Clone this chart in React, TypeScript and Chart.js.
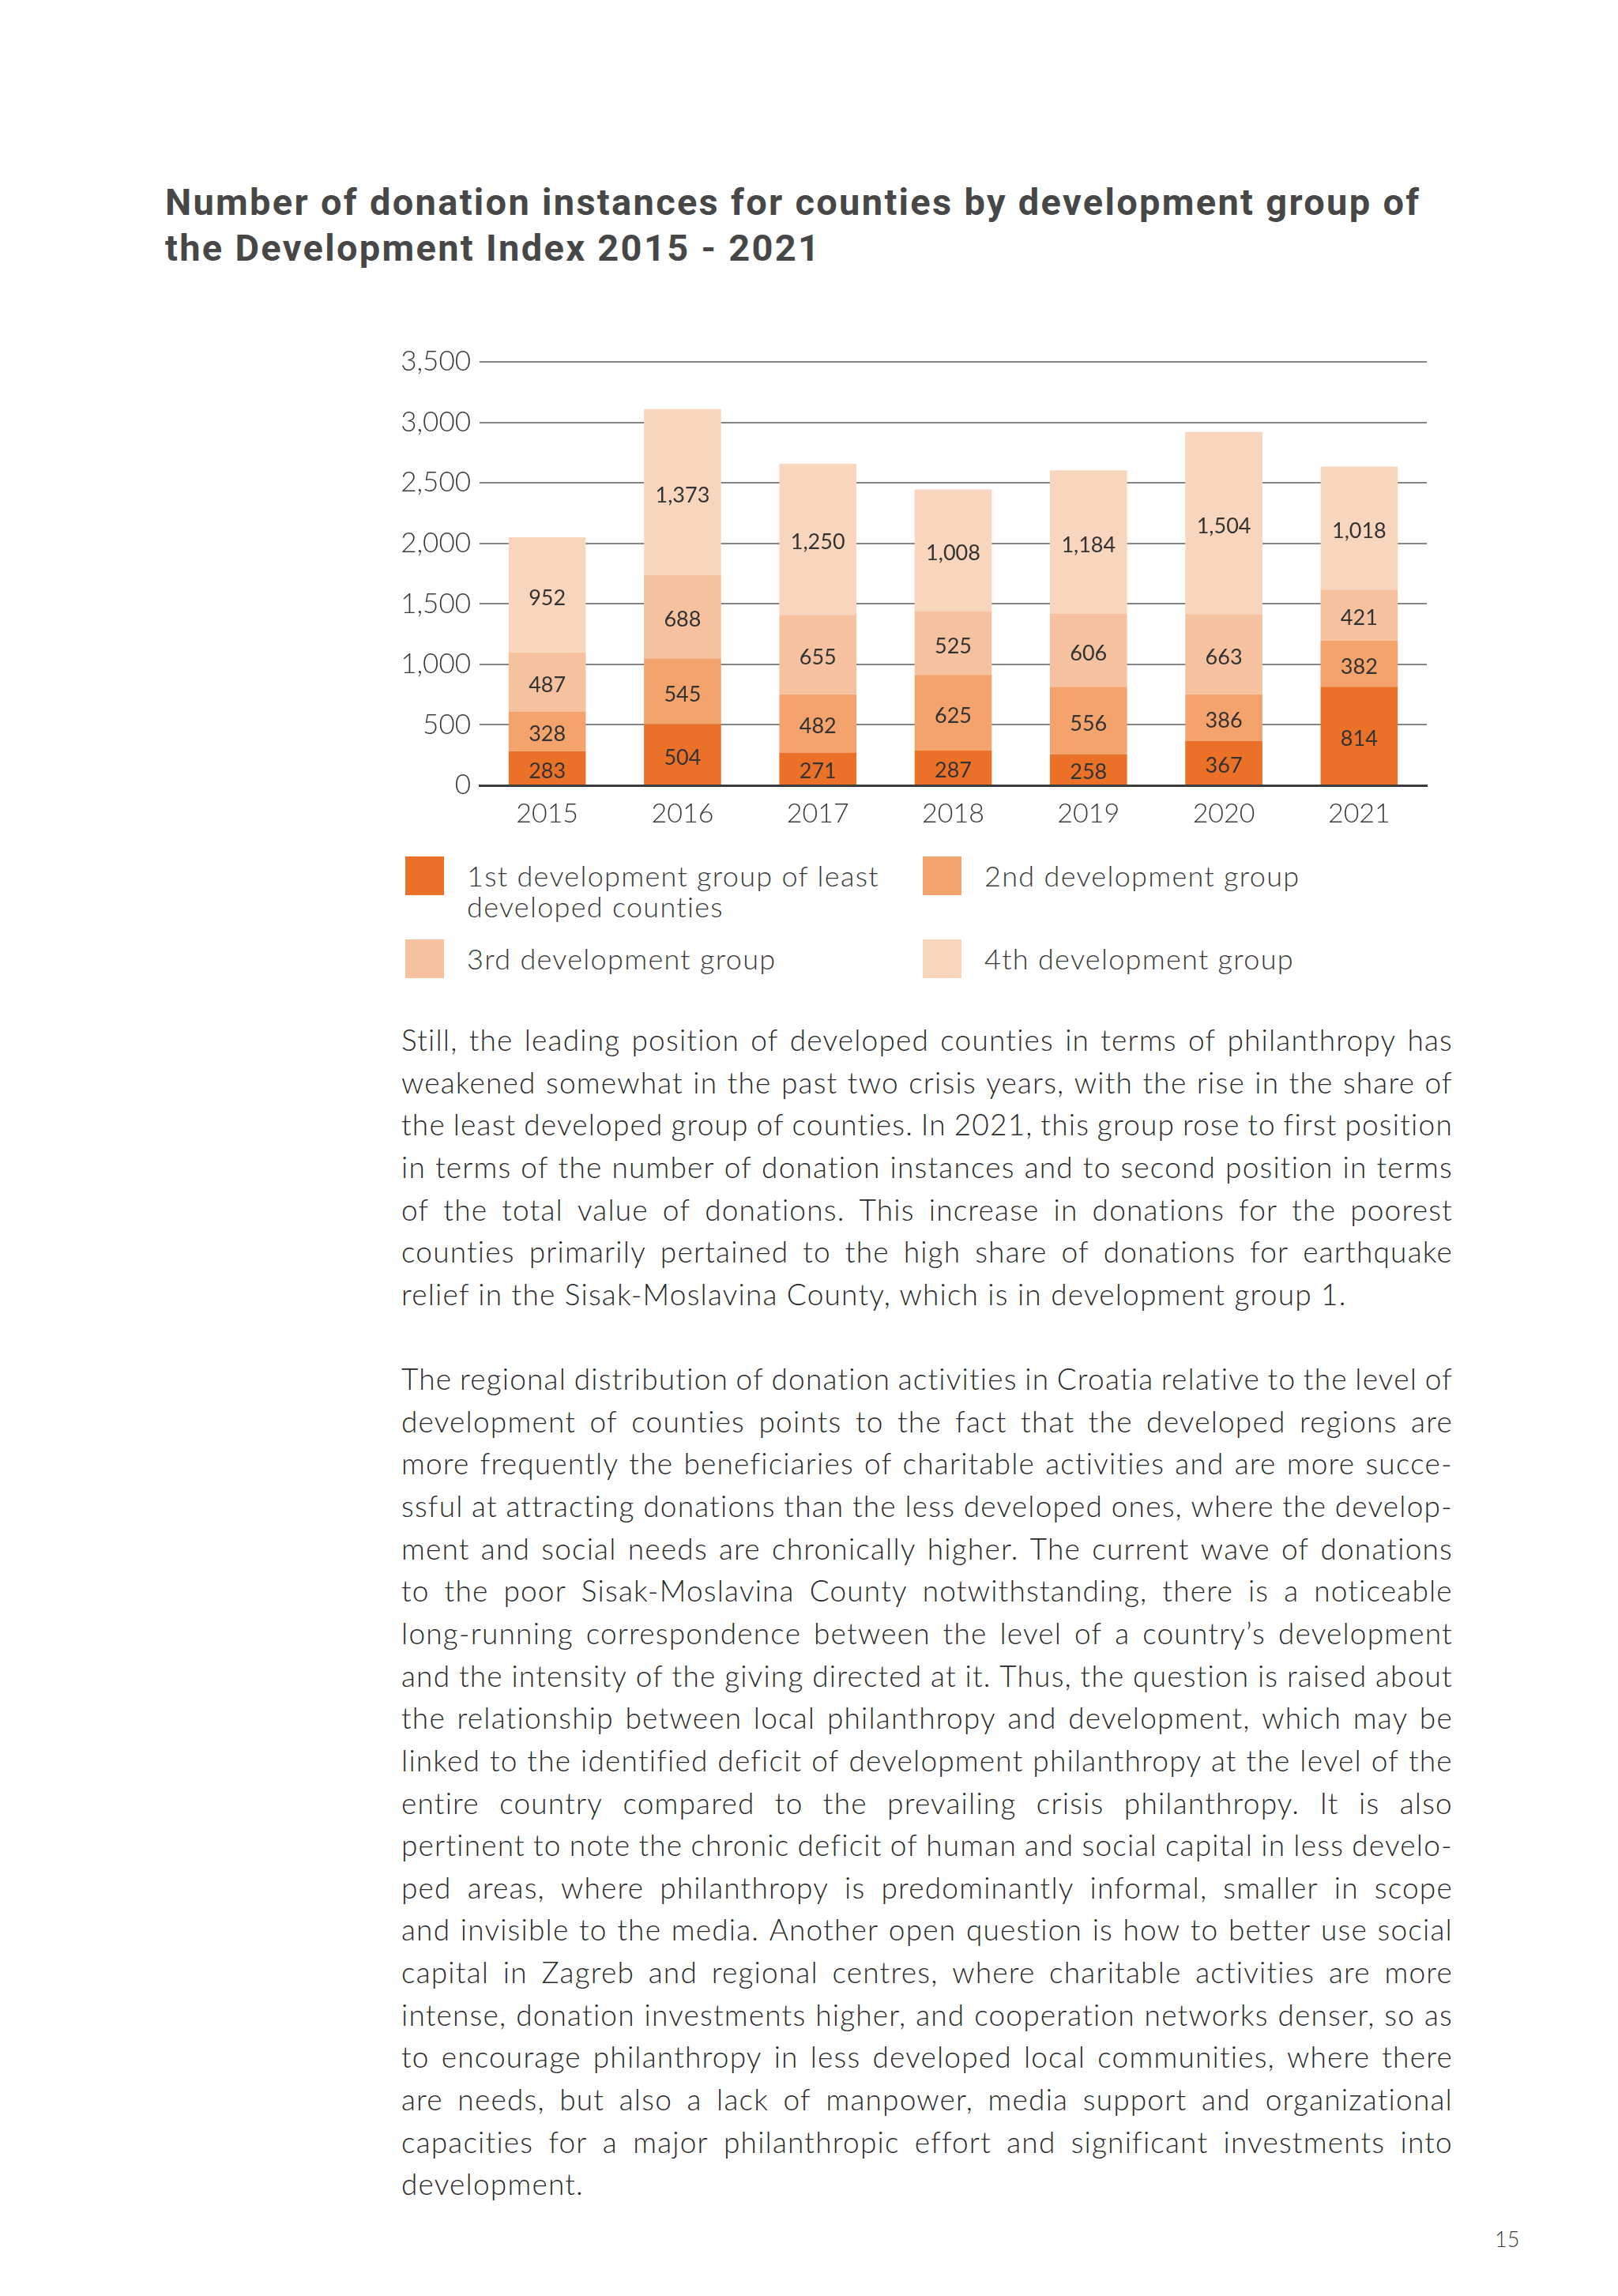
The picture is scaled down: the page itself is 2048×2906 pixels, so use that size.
import React, { useEffect, useRef } from "react";
import { Chart, registerables } from "chart.js";

Chart.register(...registerables);

const years = ["2015", "2016", "2017", "2018", "2019", "2020", "2021"];
const group1 = [283, 504, 271, 287, 258, 367, 814];
const group2 = [328, 545, 482, 625, 556, 386, 382];
const group3 = [487, 688, 655, 525, 606, 663, 421];
const group4 = [952, 1373, 1250, 1008, 1184, 1504, 1018];
const seriesNames = [
  "1st development group of least developed counties",
  "2nd development group",
  "3rd development group",
  "4th development group",
];
const seriesColors = ["#EC7128", "#F3A36B", "#F6C19E", "#F8D6BE"];

const titleLines = [
  "Number of donation instances for counties by development group of",
  "the Development Index 2015 - 2021",
];

const para1 = [
  "Still, the leading position of developed counties in terms of philanthropy has",
  "weakened somewhat in the past two crisis years, with the rise in the share of",
  "the least developed group of counties. In 2021, this group rose to first position",
  "in terms of the number of donation instances and to second position in terms",
  "of the total value of donations. This increase in donations for the poorest",
  "counties primarily pertained to the high share of donations for earthquake",
  "relief in the Sisak-Moslavina County, which is in development group 1.",
];
const para2 = [
  "The regional distribution of donation activities in Croatia relative to the level of",
  "development of counties points to the fact that the developed regions are",
  "more frequently the beneficiaries of charitable activities and are more succe-",
  "ssful at attracting donations than the less developed ones, where the develop-",
  "ment and social needs are chronically higher. The current wave of donations",
  "to the poor Sisak-Moslavina County notwithstanding, there is a noticeable",
  "long-running correspondence between the level of a country\u2019s development",
  "and the intensity of the giving directed at it. Thus, the question is raised about",
  "the relationship between local philanthropy and development, which may be",
  "linked to the identified deficit of development philanthropy at the level of the",
  "entire country compared to the prevailing crisis philanthropy. It is also",
  "pertinent to note the chronic deficit of human and social capital in less develo-",
  "ped areas, where philanthropy is predominantly informal, smaller in scope",
  "and invisible to the media. Another open question is how to better use social",
  "capital in Zagreb and regional centres, where charitable activities are more",
  "intense, donation investments higher, and cooperation networks denser, so as",
  "to encourage philanthropy in less developed local communities, where there",
  "are needs, but also a lack of manpower, media support and organizational",
  "capacities for a major philanthropic effort and significant investments into",
  "development.",
];

const BODY_FONT = "Lato, 'Open Sans', sans-serif";

const valueLabels = {
  id: "valueLabels",
  afterDatasetsDraw(chart: any) {
    const { ctx } = chart;
    ctx.save();
    ctx.font = "400 27px Lato, sans-serif";
    ctx.fillStyle = "#333333";
    ctx.textAlign = "center";
    ctx.textBaseline = "middle";
    chart.data.datasets.forEach((ds: any, i: number) => {
      const meta = chart.getDatasetMeta(i);
      meta.data.forEach((bar: any, j: number) => {
        const p = bar.getProps(["x", "y", "base"], true);
        const v = ds.data[j] as number;
        ctx.fillText(v.toLocaleString("en-US"), p.x, (p.y + p.base) / 2 + 4);
      });
    });
    ctx.restore();
  },
};

function ChartBox() {
  const ref = useRef<HTMLCanvasElement | null>(null);
  useEffect(() => {
    if (!ref.current) return;
    const data = [group1, group2, group3, group4];
    const chart = new Chart(ref.current, {
      type: "bar",
      data: {
        labels: years,
        datasets: data.map((d, i) => ({
          label: seriesNames[i],
          data: d,
          backgroundColor: seriesColors[i],
          borderWidth: 0,
          categoryPercentage: 1,
          barPercentage: 0.57,
        })),
      },
      options: {
        responsive: false,
        animation: false,
        maintainAspectRatio: false,
        layout: { padding: { top: 38, right: 34, left: 0, bottom: 0 } },
        plugins: {
          legend: { display: false },
          tooltip: { enabled: false },
        },
        scales: {
          x: {
            stacked: true,
            grid: { display: false, drawTicks: false },
            border: { display: true, color: "#3c3c3c", width: 3 },
            ticks: {
              color: "#3a3a3a",
              font: { family: "Lato, sans-serif", size: 34, weight: "300" as any },
              padding: 16,
            },
            afterFit(scale: any) {
              scale.height = 86;
            },
          },
          y: {
            stacked: true,
            min: 0,
            max: 3500,
            border: { display: false },
            grid: { color: "#858585", lineWidth: 2, drawTicks: false },
            ticks: {
              stepSize: 500,
              color: "#3a3a3a",
              font: { family: "Lato, sans-serif", size: 35, weight: "300" as any },
              padding: 11,
            },
            afterFit(scale: any) {
              scale.width = 127;
            },
          },
        },
      },
      plugins: [valueLabels],
    });
    return () => chart.destroy();
  }, []);
  return (
    <canvas
      ref={ref}
      width={1360}
      height={660}
      style={{ position: "absolute", left: 480, top: 420, width: 1360, height: 660 }}
    />
  );
}

const LINE_H = 53.65;

function JustLine({ text, last }: { text: string; last: boolean }) {
  if (last) {
    return <div style={{ whiteSpace: "nowrap", height: LINE_H }}>{text}</div>;
  }
  const words = text.split(" ");
  return (
    <div
      style={{
        display: "flex",
        justifyContent: "space-between",
        whiteSpace: "nowrap",
        height: LINE_H,
      }}
    >
      {words.map((w, i) => (
        <span key={i}>{w}</span>
      ))}
    </div>
  );
}

function LegendItem({ color, text, left, top }: { color: string; text: string[]; left: number; top: number }) {
  return (
    <>
      <div style={{ position: "absolute", left, top, width: 49, height: 49, background: color }} />
      <div
        style={{
          position: "absolute",
          left: left + 78,
          top: top + 5,
          fontFamily: BODY_FONT,
          fontWeight: 300,
          fontSize: 36,
          letterSpacing: "1.3px",
          lineHeight: "39px",
          color: "#3a3a3a",
          whiteSpace: "nowrap",
        }}
      >
        {text.map((t, i) => (
          <div key={i}>{t}</div>
        ))}
      </div>
    </>
  );
}

export default function App() {
  return (
    <div
      style={{
        position: "absolute",
        left: 0,
        top: 0,
        width: 2048,
        height: 2906,
        background: "#ffffff",
        overflow: "hidden",
      }}
    >
      <div
        style={{
          position: "absolute",
          left: 209,
          top: 227,
          fontFamily: "Roboto, sans-serif",
          fontWeight: 700,
          fontSize: 47,
          letterSpacing: "2.3px",
          lineHeight: "58px",
          color: "#474747",
          whiteSpace: "nowrap",
        }}
      >
        {titleLines.map((t, i) => (
          <div key={i}>{t}</div>
        ))}
      </div>

      <ChartBox />

      <LegendItem color={seriesColors[0]} text={["1st development group of least", "developed counties"]} left={513} top={1084} />
      <LegendItem color={seriesColors[1]} text={[seriesNames[1]]} left={1168} top={1084} />
      <LegendItem color={seriesColors[2]} text={[seriesNames[2]]} left={513} top={1189} />
      <LegendItem color={seriesColors[3]} text={[seriesNames[3]]} left={1168} top={1189} />

      <div
        style={{
          position: "absolute",
          left: 508,
          top: 1289,
          width: 1331,
          fontFamily: BODY_FONT,
          fontWeight: 300,
          fontSize: 37,
          letterSpacing: "1.2px",
          lineHeight: LINE_H + "px",
          color: "#2a2a2a",
        }}
      >
        {para1.map((t, i) => (
          <JustLine key={"a" + i} text={t} last={i === para1.length - 1} />
        ))}
        <div style={{ height: LINE_H }} />
        {para2.map((t, i) => (
          <JustLine key={"b" + i} text={t} last={i === para2.length - 1} />
        ))}
      </div>

      <div
        style={{
          position: "absolute",
          left: 1892,
          top: 2818,
          fontFamily: BODY_FONT,
          fontWeight: 300,
          fontSize: 27,
          lineHeight: "32px",
          color: "#3a3a3a",
        }}
      >
        15
      </div>
    </div>
  );
}
